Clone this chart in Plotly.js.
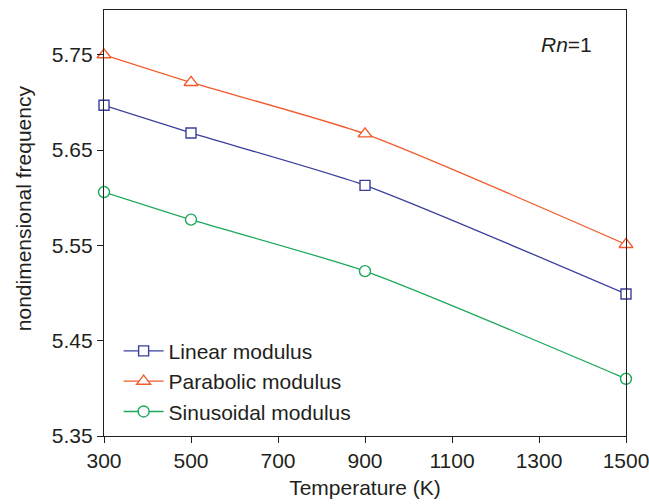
<!DOCTYPE html>
<html><head><meta charset="utf-8">
<script src="https://cdn.plot.ly/plotly-3.0.1.min.js"></script>
<style>html,body{margin:0;padding:0;background:#fff}#chart{width:649px;height:504px}</style>
</head><body><div id="chart"></div>
<script>
const temperature = [300, 500, 900, 1500];
const linearModulus = [5.697, 5.668, 5.613, 5.499];
const parabolicModulus = [5.750, 5.721, 5.667, 5.551];
const sinusoidalModulus = [5.606, 5.577, 5.523, 5.410];
const seriesNames = ['Linear modulus', 'Parabolic modulus', 'Sinusoidal modulus'];
const xTicks = [300, 500, 700, 900, 1100, 1300, 1500];
const yTicks = [5.35, 5.45, 5.55, 5.65, 5.75];

const font = {family: 'Liberation Sans, Arial, sans-serif', size: 21, color: '#231f20'};
function tr(y, name, color, symbol, size) {
  return {x: temperature, y: y, name: name, type: 'scatter', mode: 'lines+markers',
    line: {color: color, width: 1.3, shape: 'spline', smoothing: 0.6},
    marker: {symbol: symbol, size: size, color: '#ffffff', line: {color: color, width: 1.4}},
    cliponaxis: false};
}
const data = [
  tr(linearModulus, seriesNames[0], '#3b3f9c', 'square', 10),
  tr(parabolicModulus, seriesNames[1], '#f15a2b', 'triangle-up', 12),
  tr(sinusoidalModulus, seriesNames[2], '#1ca85a', 'circle', 11)
];
const layout = {
  width: 649, height: 504,
  margin: {l: 104, r: 23, t: 10, b: 68},
  paper_bgcolor: '#fff', plot_bgcolor: '#fff',
  font: font,
  showlegend: true,
  legend: {x: 0.028, y: 0.01, xanchor: 'left', yanchor: 'bottom', bgcolor: 'rgba(0,0,0,0)',
    font: font, tracegroupgap: 0, itemwidth: 40},
  xaxis: {range: [300, 1500], tickvals: xTicks, ticktext: xTicks.map(String),
    ticks: 'outside', ticklen: 6, tickcolor: '#231f20', showgrid: false, zeroline: false,
    showline: true, linecolor: '#231f20', linewidth: 1.2, mirror: true, automargin: false,
    ticklabeloverflow: 'allow',
    title: {text: 'Temperature (K)', font: font, standoff: 8}, tickfont: font},
  yaxis: {range: [5.35, 5.797], tickvals: yTicks, ticktext: yTicks.map(v => v.toFixed(2)),
    ticks: 'outside', ticklen: 6, tickcolor: '#231f20', showgrid: false, zeroline: false,
    showline: true, linecolor: '#231f20', linewidth: 1.2, mirror: true, automargin: false,
    ticklabeloverflow: 'allow', tickfont: font},
  annotations: [
    {xref: 'paper', yref: 'paper', x: 0.939, y: 0.92, xanchor: 'right', yanchor: 'middle',
      text: '<i>Rn</i>=1', showarrow: false, font: font},
    {xref: 'paper', yref: 'paper', x: -0.155, y: 0.535, xanchor: 'center', yanchor: 'middle',
      textangle: -90, text: 'nondimensional frequency', showarrow: false, font: font}
  ]
};
Plotly.newPlot('chart', data, layout, {displayModeBar: false, staticPlot: true});
</script></body></html>
